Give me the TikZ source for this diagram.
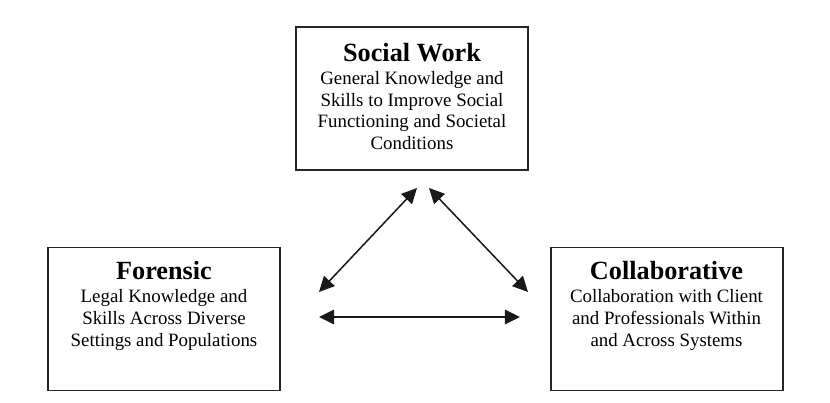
\documentclass[tikz,border=0pt]{standalone}
\usepackage{fontspec}
\setmainfont{Liberation Serif}
\usepackage{tikz}
\usetikzlibrary{positioning, arrows.meta}

\begin{document}
\begin{tikzpicture}[x=0.03cm, y=-0.03cm,
  box/.style={draw=black!85, line width=1.7pt, minimum width=232*0.03cm, minimum height=143*0.03cm, inner sep=0pt},
  boxtext/.style={align=center, inner sep=0pt, font=\fontsize{16.1}{18.5}\selectfont},
  link/.style={{Triangle[length=13pt, width=12.5pt]}-{Triangle[length=13pt, width=12.5pt]}, line width=1.3pt, black!90}]
% --- TITLE SIZE FOR THE BOXES ---
\newcommand{\boxtitle}[1]{{\fontsize{22.4}{18.5}\selectfont\bfseries #1}}
\useasboundingbox (0,0) rectangle (830,403);

% LAYER 1: Caixas
\node[box] (social) at (412,98.5) {};
\node[box] (forensic) at (164,319) {};
\node[box] (collab) at (666.5,319) {};

% LAYER 2: Textos
\node[boxtext, anchor=north, below=14.5pt of social.north] (socialtext) {\boxtitle{Social Work}\\[1.1pt]
  General Knowledge and\\ Skills to Improve Social\\ Functioning and Societal\\ Conditions};
\node[boxtext, anchor=north, below=12.8pt of forensic.north] (forensictext) {\boxtitle{Forensic}\\[1.1pt]
  Legal Knowledge and\\ Skills Across Diverse\\ Settings and Populations};
\node[boxtext, anchor=north, below=12.8pt of collab.north] (collabtext) {\boxtitle{Collaborative}\\[1.1pt]
  Collaboration with Client\\ and Professionals Within\\ and Across Systems};

% LAYER 3: Setas duplas
\coordinate (topL) at (417,188);
\coordinate (topR) at (429,188);
\coordinate (midL) at (319,292);
\coordinate (midR) at (528,292);
\coordinate (lowL) at (319,317);
\coordinate (lowR) at (520,317);
\draw[link] (topL) -- (midL);
\draw[link] (topR) -- (midR);
\draw[link] (lowL) -- (lowR);
\end{tikzpicture}
\end{document}
